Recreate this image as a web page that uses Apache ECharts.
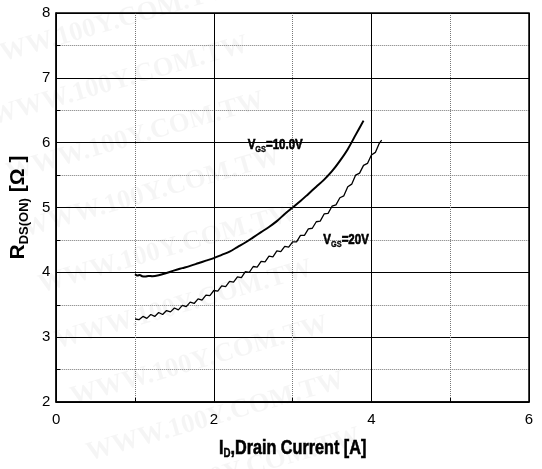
<!DOCTYPE html>
<html>
<head>
<meta charset="utf-8">
<script src="https://cdn.jsdelivr.net/npm/echarts@6/dist/echarts.min.js"></script>
<style>
  html, body { margin: 0; padding: 0; background: #fff; }
  #chart { width: 542px; height: 469px; }
</style>
</head>
<body>
<div id="chart"></div>
<script>
// Drain current [A] and on-resistance [Ω] for VGS = 10.0 V
const current10 = [1.00, 1.03, 1.06, 1.09, 1.13, 1.17, 1.22, 1.30, 1.40, 1.50, 1.60, 1.70, 1.80, 1.90,
  2.00, 2.10, 2.20, 2.30, 2.40, 2.50, 2.60, 2.70, 2.80, 2.90, 3.00, 3.10, 3.20, 3.30, 3.40, 3.50,
  3.60, 3.70, 3.80, 3.90];
const rds10 = [3.97, 3.95, 3.96, 3.94, 3.935, 3.945, 3.94, 3.955, 3.99, 4.03, 4.065, 4.10, 4.14, 4.18,
  4.22, 4.27, 4.32, 4.39, 4.46, 4.54, 4.62, 4.70, 4.79, 4.90, 5.00, 5.10, 5.21, 5.32, 5.43, 5.56,
  5.72, 5.90, 6.12, 6.34];

// Drain current [A] and on-resistance [Ω] for VGS = 20 V (measured trace, stepped)
const current20 = [1.00, 1.05, 1.10, 1.15, 1.20, 1.25, 1.30, 1.35, 1.40, 1.45, 1.50, 1.55, 1.60, 1.65,
  1.70, 1.75, 1.80, 1.85, 1.90, 1.95, 2.00, 2.05, 2.10, 2.15, 2.20, 2.25, 2.30, 2.35, 2.40, 2.45,
  2.50, 2.55, 2.60, 2.65, 2.70, 2.75, 2.80, 2.85, 2.90, 2.95, 3.00, 3.05, 3.10, 3.15, 3.20, 3.25,
  3.30, 3.35, 3.40, 3.45, 3.50, 3.55, 3.60, 3.65, 3.70, 3.75, 3.80, 3.85, 3.90, 3.95, 4.00, 4.05,
  4.10, 4.13];
const rds20 = [3.28, 3.27, 3.32, 3.29, 3.35, 3.32, 3.38, 3.35, 3.41, 3.39, 3.45, 3.42, 3.49, 3.47,
  3.54, 3.52, 3.59, 3.57, 3.65, 3.64, 3.72, 3.71, 3.79, 3.78, 3.86, 3.85, 3.93, 3.92, 4.01, 4.00,
  4.09, 4.08, 4.17, 4.16, 4.25, 4.24, 4.33, 4.32, 4.40, 4.39, 4.47, 4.47, 4.57, 4.57, 4.67, 4.68,
  4.78, 4.79, 4.90, 4.91, 5.02, 5.04, 5.15, 5.18, 5.32, 5.36, 5.50, 5.53, 5.65, 5.68, 5.81, 5.85,
  5.99, 6.04];

// Curve captions and where they sit, in axis units (left edge, vertical middle)
const captions = [
  { text: '{v|V}{s|GS}{v|=10.0V}', at: [2.43, 5.96] },
  { text: '{v|V}{s|GS}{v|=20V}', at: [3.39, 4.50] }
];

// Axis ranges and tick steps
const xRange = [0, 6];
const xStep = 2;
const yRange = [2, 8];
const yStep = 1;

const pairs = (xs, ys) => xs.map((x, i) => [x, ys[i]]);

const chart = echarts.init(document.getElementById('chart'), null, { renderer: 'canvas' });

const FONT = 'Liberation Sans, Arial, sans-serif';

// heavy, tightly set lettering used for captions and the x-axis title
const heavy = (size, extra) => Object.assign({
  fontFamily: FONT, fontWeight: 'bold', fontSize: size, fill: '#000', stroke: '#000', lineWidth: 0.6
}, extra || {});

const captionRich = {
  v: heavy(14),
  s: heavy(9, { lineWidth: 0.3, padding: [9, 0, 0, 0] })
};

// faint diagonal site stamp repeated over the sheet
const stamps = [];
for (let i = 0; i < 9; i++) {
  stamps.push({
    type: 'text',
    id: 'stamp' + i,
    x: -25 + 16 * i,
    y: 62 + 56 * i,
    rotation: 0.28,
    z: -10,
    silent: true,
    style: {
      text: 'WWW.100Y.COM.TW',
      font: 'bold 27px "Liberation Serif", serif',
      fill: 'rgba(0,0,0,0.04)',
      verticalAlign: 'middle'
    }
  });
}

const option = {
  animation: false,
  backgroundColor: '#fff',
  grid: { left: 55, right: 13, top: 13, bottom: 67, show: true, borderColor: '#000', borderWidth: 1.5, z: 3 },
  graphic: stamps,
  xAxis: {
    type: 'value',
    min: xRange[0], max: xRange[1], interval: xStep,
    axisLine: { show: true, lineStyle: { color: '#000', width: 1.5 } },
    axisTick: { show: true, inside: true, length: 4, lineStyle: { color: '#000' } },
    minorTick: { show: true, splitNumber: 2, length: 4, lineStyle: { color: '#000' } },
    axisLabel: { fontFamily: FONT, fontSize: 15, color: '#000', margin: 10 },
    splitLine: { show: true, lineStyle: { color: '#000', width: 1 } },
    minorSplitLine: { show: true, lineStyle: { color: '#777', width: 1, type: [1, 1] } }
  },
  yAxis: {
    type: 'value',
    min: yRange[0], max: yRange[1], interval: yStep,
    axisLine: { show: true, lineStyle: { color: '#000', width: 1.5 } },
    axisTick: { show: true, inside: true, length: 4, lineStyle: { color: '#000' } },
    minorTick: { show: true, splitNumber: 2, length: 4, lineStyle: { color: '#000' } },
    axisLabel: { fontFamily: FONT, fontSize: 15, color: '#000', margin: 6 },
    splitLine: { show: true, lineStyle: { color: '#000', width: 1 } },
    minorSplitLine: { show: true, lineStyle: { color: '#777', width: 1, type: [1, 1] } },
    name: '{b|R}{s|DS(ON)}{b| [Ω ]}',
    nameLocation: 'middle',
    nameRotate: 90,
    nameGap: 17,
    nameTextStyle: {
      rich: {
        b: { fontFamily: FONT, fontWeight: 'bold', fontSize: 21, color: '#000' },
        s: { fontFamily: FONT, fontWeight: 'bold', fontSize: 13, color: '#000', padding: [12, 0, 0, 0] }
      }
    }
  },
  series: [
    {
      name: 'VGS=10.0V',
      type: 'line',
      data: pairs(current10, rds10),
      showSymbol: false,
      smooth: 0.3,
      lineStyle: { color: '#000', width: 2 },
      z: 5
    },
    {
      name: 'VGS=20V',
      type: 'line',
      data: pairs(current20, rds20),
      showSymbol: false,
      smooth: false,
      lineStyle: { color: '#000', width: 1.3 },
      z: 5
    }
  ]
};

chart.setOption(option);

// Captions and the x-axis title, placed through the grid's coordinate system
const rect = chart.getModel().getComponent('grid', 0).coordinateSystem.getRect();
const extra = captions.map((c, i) => {
  const p = chart.convertToPixel({ gridIndex: 0 }, c.at);
  return {
    type: 'text',
    id: 'caption' + i,
    x: p[0], y: p[1],
    scaleX: 0.82,
    z: 20,
    style: { text: c.text, rich: captionRich, align: 'left', verticalAlign: 'middle' }
  };
});
extra.push({
  type: 'text',
  id: 'xtitle',
  x: rect.x + rect.width / 2,
  y: rect.y + rect.height + 34,
  scaleX: 0.81,
  z: 20,
  style: {
    text: '{b|I}{s|D}{b|,Drain Current [A]}',
    align: 'center',
    verticalAlign: 'top',
    rich: {
      b: heavy(20),
      s: heavy(12, { lineWidth: 0.4, padding: [12, 0, 0, 0] })
    }
  }
});
chart.setOption({ graphic: stamps.concat(extra) });
</script>
</body>
</html>
